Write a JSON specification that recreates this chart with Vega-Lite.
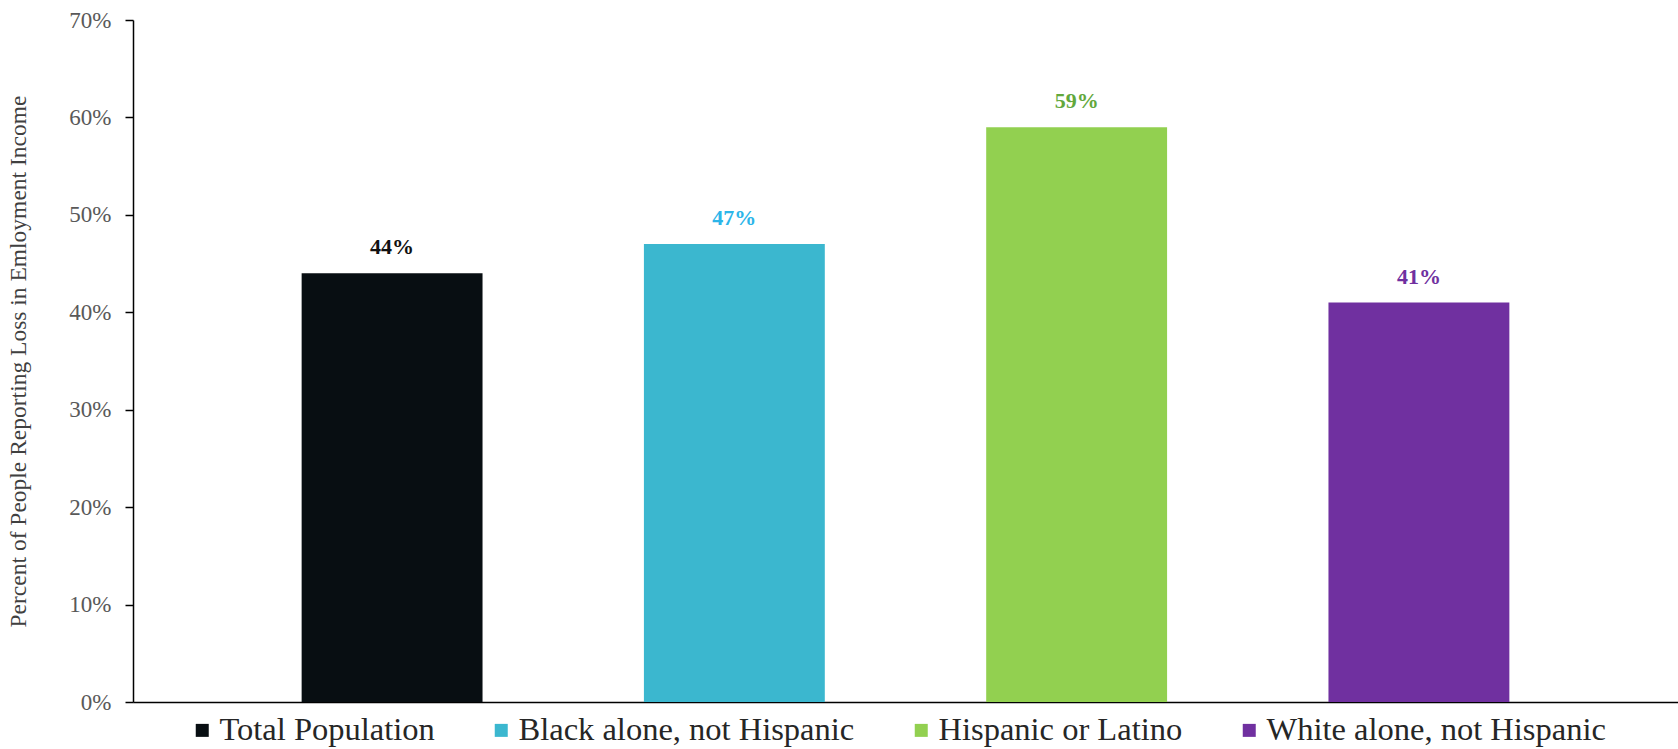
{
  "$schema": "https://vega.github.io/schema/vega-lite/v6.json",
  "width": 1545,
  "height": 682,
  "autosize": "none",
  "padding": {"left": 133, "top": 20, "right": 0, "bottom": 47},
  "background": "white",
  "config": {"view": {"stroke": null}, "font": "'Liberation Serif', 'Times New Roman', serif"},
  "data": {
    "values": [
      {"group": "Total Population", "pct": 0.44},
      {"group": "Black alone, not Hispanic", "pct": 0.47},
      {"group": "Hispanic or Latino", "pct": 0.59},
      {"group": "White alone, not Hispanic", "pct": 0.41}
    ]
  },
  "encoding": {
    "x": {
      "field": "group",
      "type": "nominal",
      "sort": null,
      "scale": {"paddingInner": 0.4715, "paddingOuter": 0.4927},
      "axis": {"labels": false, "ticks": false, "title": null, "domainColor": "#000000", "domainWidth": 1.5}
    },
    "y": {
      "field": "pct",
      "type": "quantitative",
      "scale": {"domain": [0, 0.7], "nice": false},
      "axis": {
        "values": [0, 0.1, 0.2, 0.3, 0.4, 0.5, 0.6, 0.7],
        "format": ".0%",
        "grid": false,
        "domainColor": "#000000",
        "domainWidth": 1.5,
        "tickColor": "#000000",
        "tickWidth": 1.5,
        "tickSize": 8,
        "labelPadding": 14,
        "labelFont": "'Liberation Serif', 'Times New Roman', serif",
        "labelFontSize": 23,
        "labelColor": "#595959",
        "title": "Percent of People Reporting Loss in Emloyment Income",
        "titleFont": "'Liberation Serif', 'Times New Roman', serif",
        "titleFontSize": 23.5,
        "titleFontWeight": "normal",
        "titleColor": "#404040",
        "titlePadding": 38
      }
    }
  },
  "layer": [
    {
      "mark": {"type": "bar"},
      "encoding": {
        "color": {
          "field": "group",
          "type": "nominal",
          "sort": null,
          "scale": {
            "domain": ["Total Population", "Black alone, not Hispanic", "Hispanic or Latino", "White alone, not Hispanic"],
            "range": ["#080E12", "#3BB7CF", "#92D050", "#7030A0"]
          },
          "legend": {
            "orient": "none",
            "legendX": 53,
            "legendY": 694,
            "direction": "horizontal",
            "title": null,
            "symbolType": "square",
            "symbolSize": 169,
            "symbolStrokeWidth": 0,
            "labelFont": "'Liberation Serif', 'Times New Roman', serif",
            "labelFontSize": 32.5,
            "labelColor": "#262626",
            "labelLimit": 500,
            "columnPadding": 50,
            "symbolOffset": 0,
            "labelOffset": 1,
            "padding": 0
          }
        }
      }
    },
    {
      "mark": {"type": "text", "baseline": "bottom", "dy": -14, "fontWeight": "bold", "fontSize": 22, "font": "'Liberation Serif', 'Times New Roman', serif"},
      "encoding": {
        "text": {"field": "pct", "type": "quantitative", "format": ".0%"},
        "color": {
          "field": "group",
          "type": "nominal",
          "sort": null,
          "scale": {
            "domain": ["Total Population", "Black alone, not Hispanic", "Hispanic or Latino", "White alone, not Hispanic"],
            "range": ["#111111", "#2CB5E9", "#62A83C", "#7030A0"]
          },
          "legend": null
        }
      }
    }
  ],
  "resolve": {"scale": {"color": "independent"}}
}
